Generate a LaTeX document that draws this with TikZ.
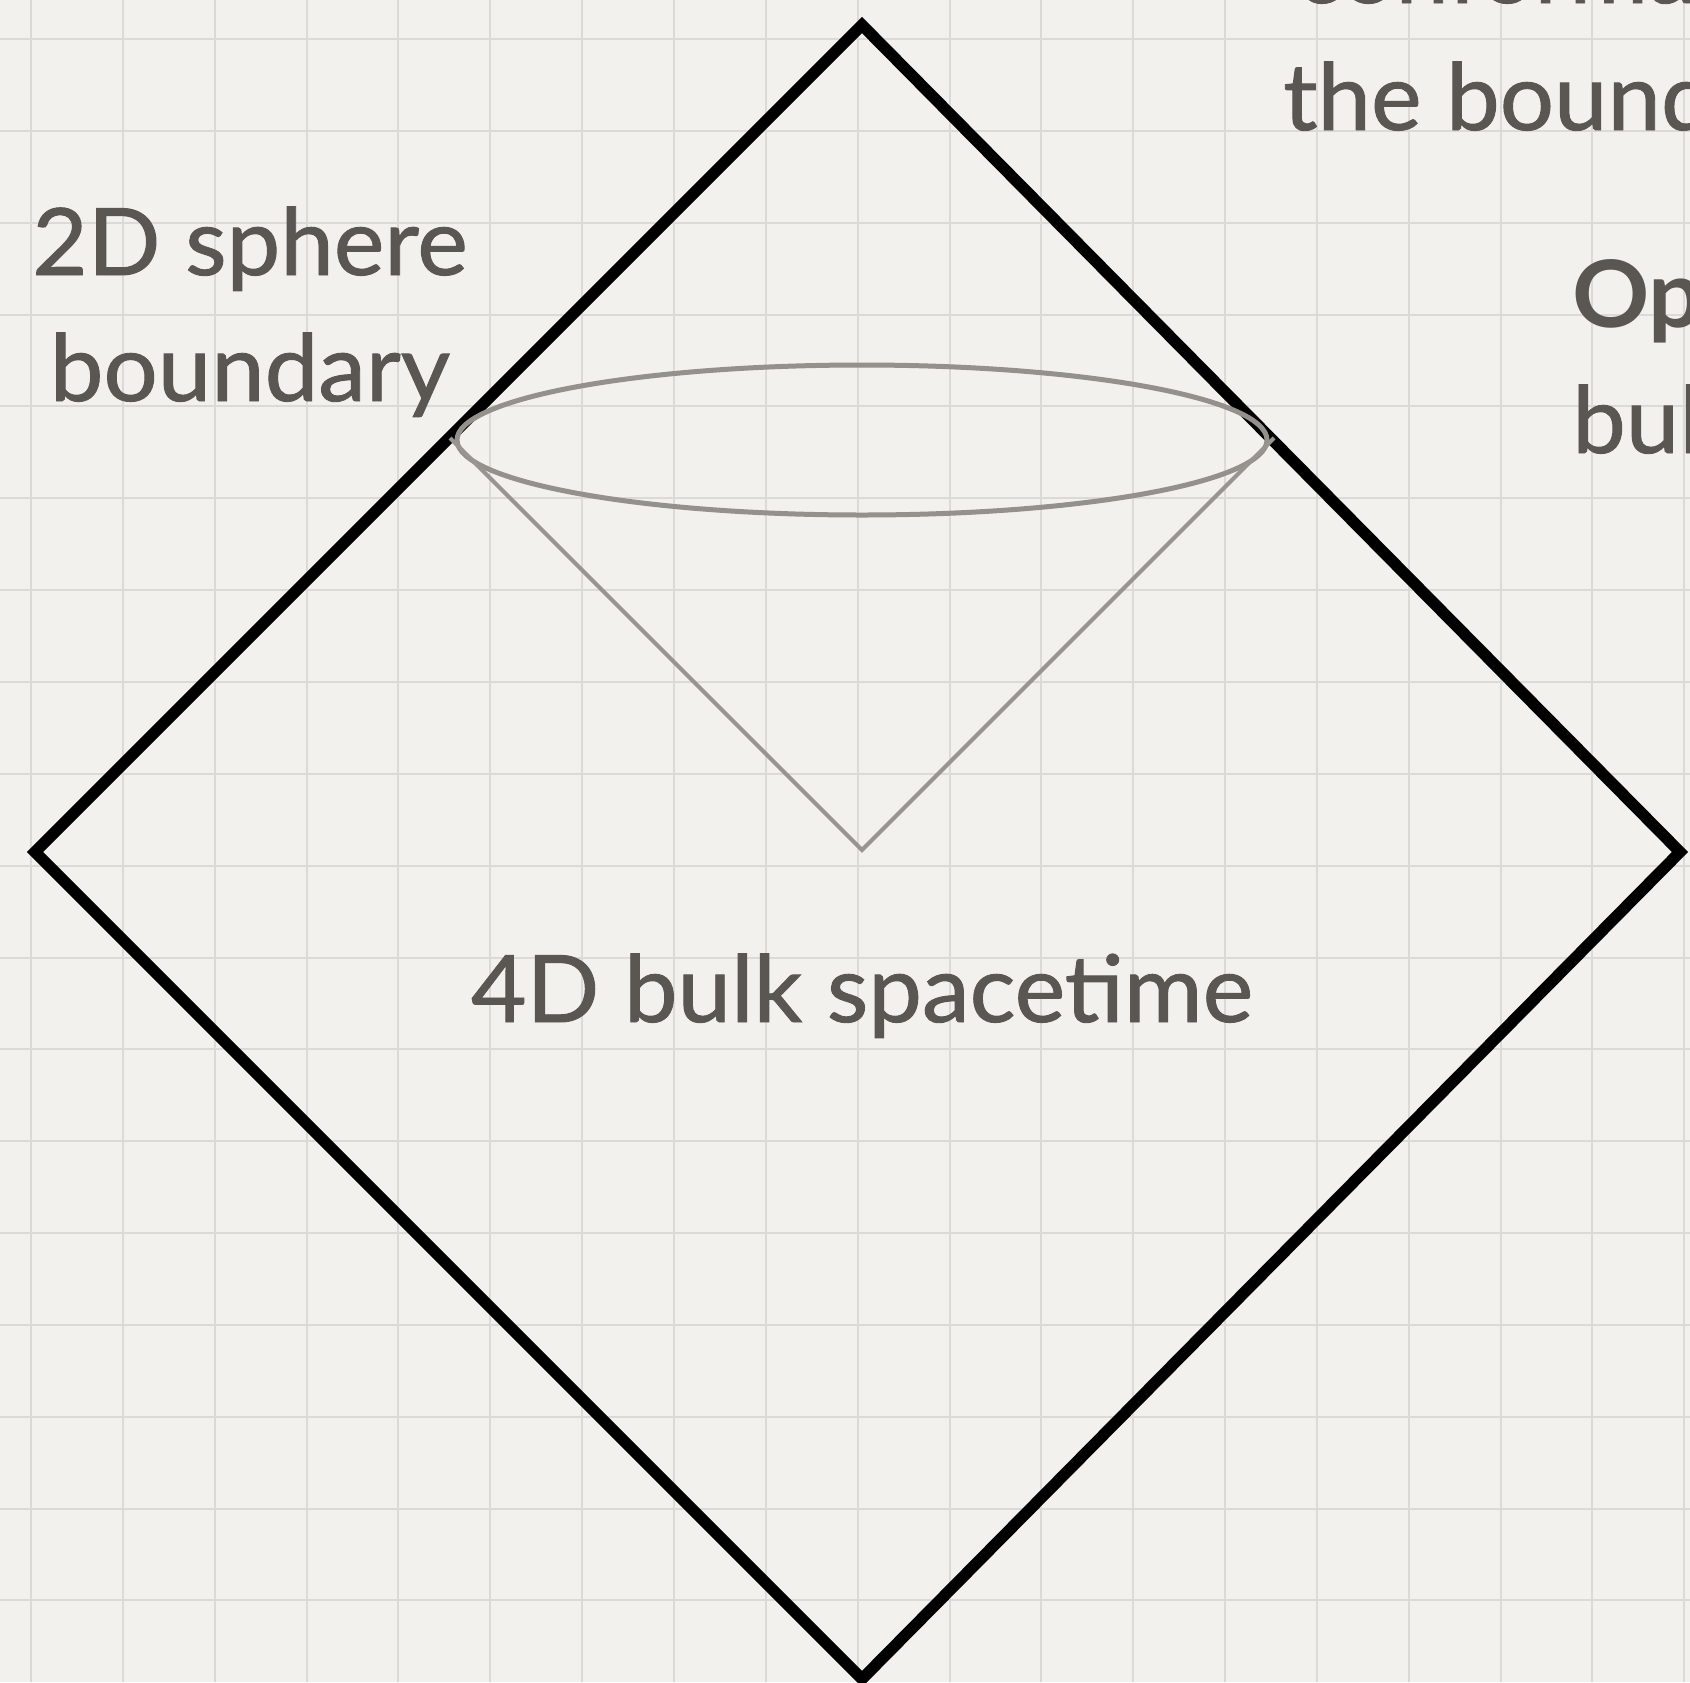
\documentclass[tikz,border=0pt]{standalone}
\usepackage{fontspec}
\setmainfont{Lato}[FakeStretch=1.03]
\newfontfamily\medfont{Lato}[FakeStretch=1.03,FakeBold=1]
\definecolor{paper}{RGB}{242,241,238}
\definecolor{gridc}{RGB}{219,218,215}
\definecolor{ink}{RGB}{90,86,82}
\definecolor{ellc}{RGB}{148,144,139}
\definecolor{conec}{RGB}{152,148,143}
\begin{document}
\begin{tikzpicture}[x=1pt,y=-1pt,
  lbl/.style={text=ink, font=\medfont\fontsize{93}{110}\selectfont, inner sep=0pt},
  gridline/.style={gridc, line width=2pt},
  frame/.style={black, line width=11.5pt, line join=miter},
  conel/.style={conec, line width=4pt},
  ellline/.style={ellc, line width=5pt}]
\useasboundingbox (0,0) rectangle (1690,1682);
\clip (0,0) rectangle (1690,1682);
\fill[paper] (0,0) rectangle (1690,1682);
\foreach \i in {0,...,18} {
  \draw[gridline] ({31+91.85*\i},0) -- ++(0,1682);
  \draw[gridline] (0,{39+91.85*\i}) -- ++(1690,0);
}
% diamond
\coordinate (top) at (862,25);
\coordinate (left) at (35,852);
\coordinate (bottom) at (862,1679);
\coordinate (right) at (1680,852);
\draw[frame] (top) -- (left) -- (bottom) -- (right) -- cycle;
% light cone
\coordinate (apex) at (862,850);
\coordinate (cl) at (450,438);
\coordinate (cr) at (1274,438);
\coordinate (ec) at (862,440);
\draw[ellline] (ec) ellipse [x radius=405, y radius=75];
\draw[conel] (cl) -- (apex) -- (cr);
% labels
\node[lbl, anchor=base] (sph1) at (250,275) {2D sphere};
\node[lbl, anchor=base] (sph2) at (250,401) {boundary};
\node[lbl, anchor=base] (bulk) at (862,1022) {4D bulk spacetime};
\node[lbl, anchor=base west] (cft1) at (1296,3) {conformal field theory on};
\node[lbl, anchor=base west] (cft2) at (1283,130) {the boundary};
\node[lbl, anchor=base west, font=\fontsize{93}{110}\selectfont\bfseries] (op1) at (1572,327) {Operators};
\node[lbl, anchor=base west] (op2) at (1572,453) {bulk fields};
\end{tikzpicture}
\end{document}
